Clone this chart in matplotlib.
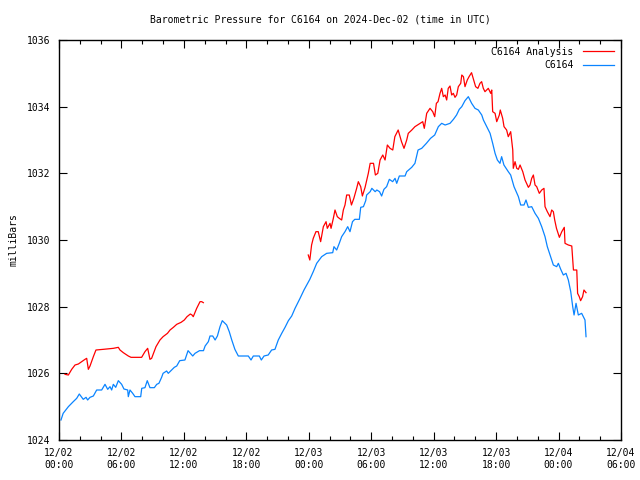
import matplotlib
matplotlib.use("Agg")
import matplotlib.pyplot as plt
import matplotlib.dates as mdates
import numpy as np
import datetime as dt

title = "Barometric Pressure for C6164 on 2024-Dec-02 (time in UTC)"
ylabel = "milliBars"
start = dt.datetime(2024, 12, 2, 0, 0)

# hours since 2024-12-02 00:00 UTC, and pressure (mb)
obs_hours = [0.19, 0.4, 0.9, 1.37, 1.7, 1.95, 2.33, 2.6, 2.75, 2.98, 3.3, 3.62, 4.1, 4.42, 4.68,
             4.9, 5.06, 5.22, 5.45, 5.7, 6.02, 6.24, 6.6, 6.66, 6.82, 7.08, 7.3, 7.85, 7.95, 8.26,
             8.48, 8.74, 9.16, 9.39, 9.6, 9.86, 10.0, 10.34, 10.5, 10.83, 11.08, 11.31, 11.6, 12.1,
             12.4, 12.85, 13.07, 13.5, 13.88, 14.04, 14.35, 14.51, 14.77, 15.0, 15.22, 15.47, 15.69,
             16.11, 16.36, 16.6, 16.9, 17.23, 18.19, 18.45, 18.67, 19.25, 19.44, 19.7, 20.1, 20.43,
             20.75, 21.07, 21.4, 21.72, 22.04, 22.36, 22.68, 23.16, 23.54, 24.1, 24.43, 24.76, 25.24,
             25.72, 26.3, 26.42, 26.68, 26.93, 27.16, 27.48, 27.74, 27.96, 28.2, 28.42, 28.86, 28.99,
             29.25, 29.47, 29.56, 29.9, 30.06, 30.38, 30.54, 30.8, 31.0, 31.22, 31.48, 31.74, 32.06,
             32.29, 32.45, 32.7, 33.25, 33.41, 33.89, 34.2, 34.5, 34.85, 35.3, 35.7, 36.1, 36.45,
             36.77, 37.1, 37.57, 37.9, 38.2, 38.46, 38.7, 39.01, 39.33, 39.65, 39.97, 40.29, 40.62,
             40.78, 41.1, 41.42, 41.67, 41.9, 42.12, 42.37, 42.53, 42.75, 43.17, 43.4, 43.72, 44.14,
             44.36, 44.68, 44.87, 45.1, 45.42, 45.74, 46.06, 46.38, 46.7, 46.92, 47.18, 47.5, 47.82,
             47.98, 48.21, 48.46, 48.72, 48.94, 49.17, 49.36, 49.49, 49.68, 49.9, 50.22, 50.38,
             50.54, 50.64]
obs_mb = [1024.6, 1024.8, 1025.0, 1025.15, 1025.25, 1025.38, 1025.22, 1025.28, 1025.2, 1025.28,
          1025.32, 1025.5, 1025.5, 1025.67, 1025.52, 1025.6, 1025.5, 1025.67, 1025.58, 1025.78,
          1025.67, 1025.53, 1025.5, 1025.3, 1025.5, 1025.4, 1025.3, 1025.3, 1025.55, 1025.57,
          1025.78, 1025.57, 1025.57, 1025.67, 1025.7, 1025.88, 1026.0, 1026.07, 1026.0, 1026.1,
          1026.18, 1026.22, 1026.38, 1026.4, 1026.68, 1026.52, 1026.6, 1026.68, 1026.68, 1026.82,
          1026.95, 1027.12, 1027.12, 1027.0, 1027.12, 1027.4, 1027.58, 1027.45, 1027.25, 1027.0,
          1026.72, 1026.52, 1026.52, 1026.4, 1026.52, 1026.52, 1026.4, 1026.52, 1026.55, 1026.7,
          1026.72, 1027.0, 1027.2, 1027.38, 1027.58, 1027.72, 1027.95, 1028.25, 1028.5, 1028.82,
          1029.05, 1029.3, 1029.5, 1029.6, 1029.62, 1029.8, 1029.7, 1029.9, 1030.1, 1030.25,
          1030.4, 1030.25, 1030.55, 1030.62, 1030.62, 1030.98, 1031.0, 1031.18, 1031.35, 1031.45,
          1031.55, 1031.45, 1031.5, 1031.45, 1031.32, 1031.52, 1031.6, 1031.82, 1031.75, 1031.85,
          1031.7, 1031.92, 1031.92, 1032.05, 1032.18, 1032.3, 1032.7, 1032.75, 1032.9, 1033.05,
          1033.15, 1033.4, 1033.5, 1033.45, 1033.5, 1033.62, 1033.75, 1033.92, 1034.0, 1034.18,
          1034.3, 1034.1, 1033.95, 1033.9, 1033.75, 1033.6, 1033.4, 1033.2, 1032.9, 1032.6, 1032.4,
          1032.3, 1032.5, 1032.25, 1032.05, 1031.95, 1031.6, 1031.3, 1031.05, 1031.05, 1031.2,
          1030.98, 1031.0, 1030.8, 1030.65, 1030.4, 1030.1, 1029.8, 1029.55, 1029.25, 1029.2,
          1029.3, 1029.12, 1028.95, 1029.0, 1028.8, 1028.45, 1028.0, 1027.75, 1028.1, 1027.75,
          1027.8, 1027.7, 1027.6, 1027.1]

ana1_hours = [0.58, 0.9, 1.22, 1.54, 1.86, 2.18, 2.5, 2.66, 2.82, 2.98, 3.3, 3.55, 4.26, 5.22, 5.7,
              5.86, 6.18, 6.66, 6.92, 7.94, 8.26, 8.52, 8.74, 8.9, 9.32, 9.7, 10.0, 10.42, 10.67,
              10.99, 11.31, 11.73, 12.04, 12.3, 12.62, 12.78, 12.9, 13.23, 13.55, 13.71, 13.87]
ana1_mb = [1025.97, 1025.95, 1026.12, 1026.25, 1026.28, 1026.35, 1026.42, 1026.45, 1026.12, 1026.22,
           1026.5, 1026.7, 1026.72, 1026.75, 1026.78, 1026.7, 1026.62, 1026.52, 1026.48, 1026.48,
           1026.65, 1026.75, 1026.42, 1026.45, 1026.8, 1027.0, 1027.1, 1027.2, 1027.3, 1027.38,
           1027.47, 1027.53, 1027.6, 1027.7, 1027.78, 1027.75, 1027.7, 1027.95, 1028.15, 1028.15,
           1028.12]

ana2_hours = [23.95, 24.1, 24.27, 24.43, 24.69, 24.91, 25.14, 25.4, 25.66, 25.78, 26.04, 26.14,
              26.36, 26.52, 26.74, 26.93, 27.16, 27.32, 27.48, 27.64, 27.89, 28.1, 28.33, 28.6,
              28.76, 28.99, 29.15, 29.41, 29.72, 29.9, 30.22, 30.4, 30.63, 30.85, 31.11, 31.33,
              31.55, 31.81, 32.07, 32.27, 32.59, 32.91, 33.15, 33.41, 33.56, 33.9, 34.2, 34.69,
              34.95, 35.1, 35.33, 35.65, 35.91, 36.1, 36.26, 36.42, 36.61, 36.77, 36.93, 37.1,
              37.25, 37.4, 37.57, 37.73, 37.89, 38.05, 38.21, 38.37, 38.6, 38.7, 38.86, 39.01,
              39.23, 39.4, 39.64, 39.8, 40.03, 40.25, 40.45, 40.61, 40.77, 40.93, 41.25, 41.48,
              41.58, 41.67, 41.9, 42.06, 42.31, 42.4, 42.63, 42.76, 43.01, 43.17, 43.4, 43.6,
              43.65, 43.82, 43.98, 44.14, 44.3, 44.56, 44.78, 45.1, 45.26, 45.42, 45.58, 45.74,
              45.9, 46.15, 46.38, 46.6, 46.7, 46.92, 47.18, 47.34, 47.5, 47.63, 47.8, 48.08,
              48.31, 48.55, 48.62, 48.94, 49.27, 49.43, 49.75, 49.83, 49.99, 50.12, 50.31, 50.44,
              50.64]
ana2_mb = [1029.55, 1029.4, 1029.85, 1030.05, 1030.25, 1030.25, 1029.95, 1030.4, 1030.55, 1030.35,
           1030.5, 1030.35, 1030.65, 1030.9, 1030.7, 1030.65, 1030.6, 1030.9, 1031.05, 1031.35,
           1031.35, 1031.05, 1031.25, 1031.55, 1031.75, 1031.6, 1031.32, 1031.58, 1032.0, 1032.3,
           1032.3, 1031.95, 1032.0, 1032.4, 1032.55, 1032.4, 1032.85, 1032.75, 1032.7, 1033.1,
           1033.3, 1032.95, 1032.75, 1033.0, 1033.2, 1033.3, 1033.4, 1033.5, 1033.55, 1033.35,
           1033.8, 1033.95, 1033.85, 1033.7, 1034.1, 1034.15, 1034.4, 1034.55, 1034.3, 1034.35,
           1034.2, 1034.55, 1034.62, 1034.35, 1034.4, 1034.28, 1034.35, 1034.6, 1034.7, 1034.95,
           1034.9, 1034.6, 1034.8, 1034.9, 1035.02, 1034.85, 1034.6, 1034.55, 1034.7, 1034.75,
           1034.55, 1034.45, 1034.55, 1034.4, 1034.5, 1033.85, 1033.8, 1033.55, 1033.75, 1033.9,
           1033.65, 1033.4, 1033.3, 1033.1, 1033.25, 1032.7, 1032.15, 1032.35, 1032.15, 1032.12,
           1032.25, 1032.05, 1031.8, 1031.58, 1031.65, 1031.85, 1031.95, 1031.65, 1031.6, 1031.4,
           1031.5, 1031.55, 1031.0, 1030.85, 1030.7, 1030.9, 1030.85, 1030.6, 1030.35, 1030.08,
           1030.25, 1030.38, 1029.9, 1029.85, 1029.82, 1029.1, 1029.1, 1028.4, 1028.3, 1028.18,
           1028.3, 1028.5, 1028.42]

x_start = start
x_end = start + dt.timedelta(hours=54)
y_min, y_max, y_step = 1024, 1036, 2

def to_dt(hours):
    return [start + dt.timedelta(hours=h) for h in hours]

FONT = "DejaVu Sans Mono"
FS = 7

fig = plt.figure(figsize=(6.4, 4.8), dpi=100)
ax = fig.add_axes([59/640, 40/480, 562/640, 400/480])

LW = 0.9
ax.plot(to_dt(ana1_hours), ana1_mb, color="#ff0000", lw=LW, label="C6164 Analysis")
ax.plot(to_dt(ana2_hours), ana2_mb, color="#ff0000", lw=LW)
ax.plot(to_dt(obs_hours), obs_mb, color="#0a84ff", lw=LW, label="C6164")

ax.set_xlim(x_start, x_end)
ax.set_ylim(y_min, y_max)
ax.set_yticks(np.arange(y_min, y_max + 0.1, y_step))
ax.xaxis.set_major_locator(mdates.HourLocator(byhour=[0, 6, 12, 18]))
ax.xaxis.set_minor_locator(mdates.HourLocator(byhour=range(0, 24, 2)))
ax.xaxis.set_major_formatter(mdates.DateFormatter("%m/%d\n%H:%M"))

ax.tick_params(which="both", direction="in", top=True, right=True, labelsize=FS, width=0.8)
ax.tick_params(which="major", length=6, pad=6)
ax.tick_params(which="minor", length=3)
for lab in ax.get_xticklabels() + ax.get_yticklabels():
    lab.set_family(FONT)
for s in ax.spines.values():
    s.set_linewidth(1.0)

ax.set_ylabel(ylabel, fontsize=FS, family=FONT, labelpad=6)
fig.text(0.5, 1 - 20/480, title, ha="center", va="center", fontsize=FS, family=FONT)

leg = ax.legend(loc="upper right", frameon=False, markerfirst=False, handlelength=3.2,
                prop={"family": FONT, "size": FS}, borderaxespad=0.3, labelspacing=0.35,
                handletextpad=1.0)
for t in leg.get_texts():
    t.set_ha("right")

fig.savefig("out.png", dpi=100)
